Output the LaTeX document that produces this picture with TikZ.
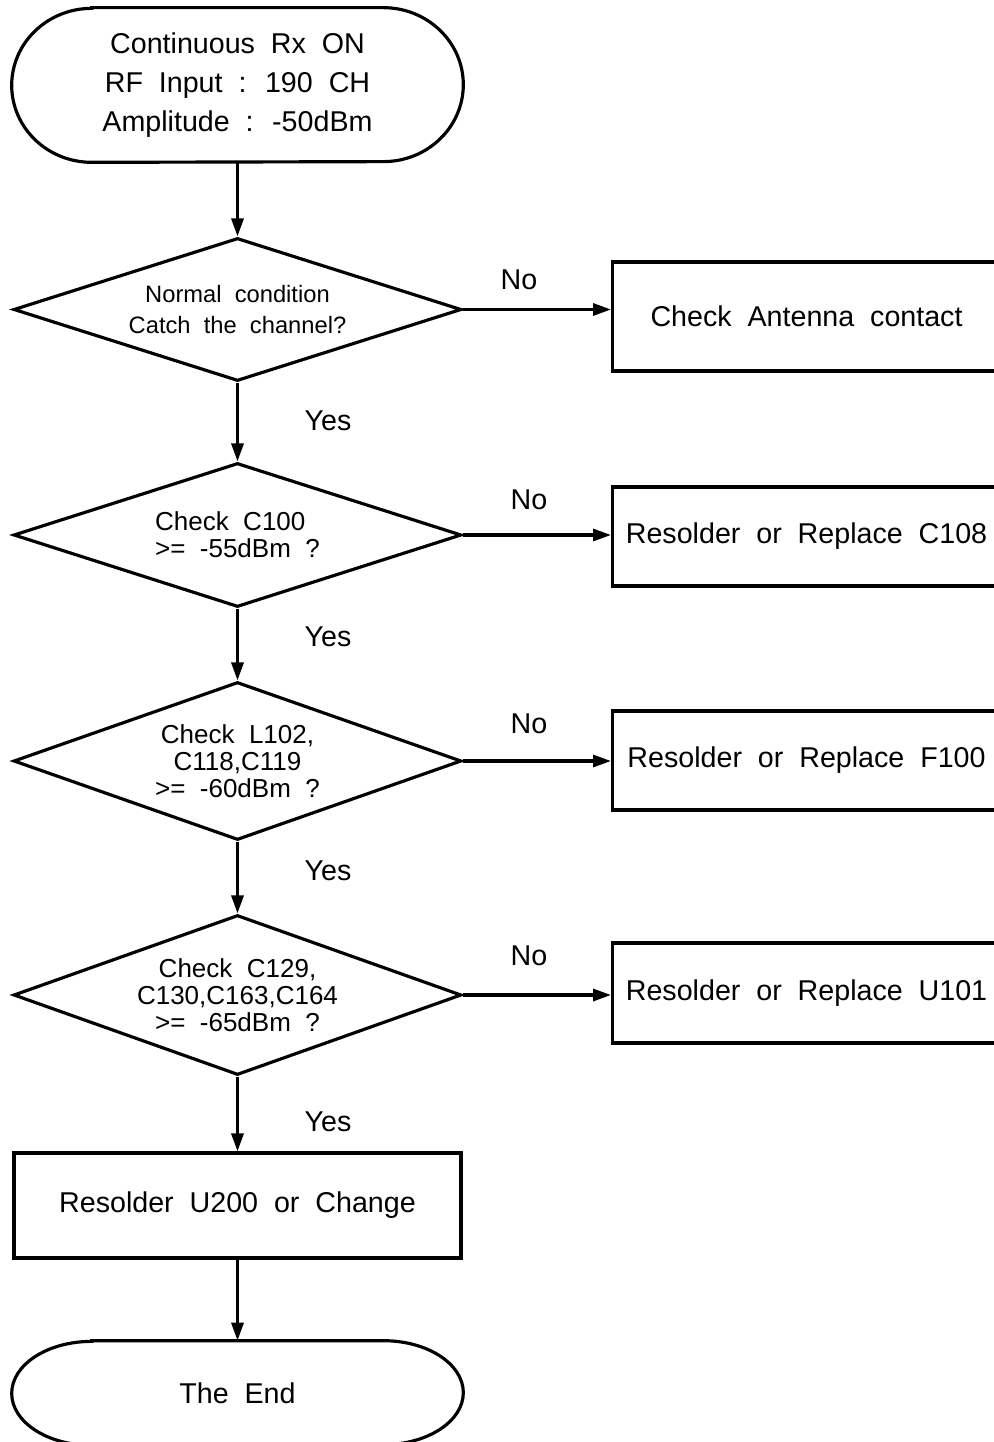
\documentclass[tikz,border=0pt]{standalone}
\usepackage{fontspec}
\setmainfont[WordSpace=2]{Liberation Sans}
\usetikzlibrary{arrows.meta, shapes.geometric, calc}

\newcommand{\bigtxt}{\fontsize{16.3pt}{22.1pt}\selectfont}
\newcommand{\midtxt}{\fontsize{14.8pt}{15.3pt}\selectfont}
\newcommand{\smalltxt}{\fontsize{13.5pt}{18.1pt}\selectfont}
% outline of a terminal node: name, width of the round end, half height
\newcommand{\termline}[3]{%
  \draw[flow] ([xshift=#2]#1.north west) -- ([xshift=-#2]#1.north east)
    arc[start angle=90, end angle=-90, x radius=#2, y radius=#3]
    -- ([xshift=#2]#1.south west)
    arc[start angle=270, end angle=90, x radius=#2, y radius=#3] -- cycle;}

\begin{document}
\begin{tikzpicture}[x=0.02cm, y=0.02cm, >={Triangle[length=0.36cm, width=0.24cm]},
  flow/.style={line width=1.8pt},
  term/.style={minimum width=9.02cm, inner sep=0pt, align=center, font=\bigtxt},
  decide/.style={flow, draw, diamond, shape aspect=3, inner sep=0pt, minimum width=8.96cm, align=center, font=\midtxt},
  fixbox/.style={flow, draw, rectangle, anchor=west, minimum width=7.76cm, font=\bigtxt},
  lbl/.style={font=\bigtxt}]
\useasboundingbox (0,0) rectangle (993,-1442);

\node[term, minimum height=3.08cm] (start) at (237.5,-85)
  {Continuous Rx ON\\RF Input : 190 CH\\Amplitude : -50dBm};
\termline{start}{1.6cm}{1.54cm}

\node[decide, minimum height=2.86cm, font=\smalltxt] (d1) at (237.5,-309.5)
  {Normal condition\\Catch the channel?};
\node[decide, minimum height=2.88cm, align=left] (d2) at (237.5,-535)
  {Check C100\\>= -55dBm ?};
\node[decide, minimum height=3.16cm] (d3) at (237.5,-761)
  {Check L102,\\C118,C119\\>= -60dBm ?};
\node[decide, minimum height=3.2cm] (d4) at (237.5,-995)
  {Check C129,\\C130,C163,C164\\>= -65dBm ?};

\node[fixbox, minimum height=2.18cm] (b1) at (611,-316.5) {Check Antenna contact};
\node[fixbox, minimum height=1.98cm] (b2) at (611,-536.5) {Resolder or Replace C108};
\node[fixbox, minimum height=1.98cm] (b3) at (611,-760.5) {Resolder or Replace F100};
\node[fixbox, minimum height=2cm] (b4) at (611,-993) {Resolder or Replace U101};

\node[flow, draw, rectangle, minimum width=8.94cm, minimum height=2.1cm, font=\bigtxt]
  (fix) at (237.5,-1205.5) {Resolder U200 or Change};

\node[term, minimum height=2.08cm] (end) at (237.5,-1393) {The End};
\termline{end}{1.6cm}{1.04cm}

% main line
\draw[flow, ->] (start) -- (d1);
\draw[flow, ->] (d1) -- (d2);
\draw[flow, ->] (d2) -- (d3);
\draw[flow, ->] (d3) -- (d4);
\draw[flow, ->] (d4) -- (fix);
\draw[flow, ->] (fix) -- (end);

% No branches
\draw[flow, ->] (d1.east) -- (d1.east -| b1.west);
\draw[flow, ->] (d2.east) -- (d2.east -| b2.west);
\draw[flow, ->] (d3.east) -- (d3.east -| b3.west);
\draw[flow, ->] (d4.east) -- (d4.east -| b4.west);

\node[lbl] (no1) at (519,-280) {No};
\node[lbl] (no2) at (529,-500) {No};
\node[lbl] (no3) at (529,-724) {No};
\node[lbl] (no4) at (529,-956) {No};
\node[lbl] (yes1) at (328,-421) {Yes};
\node[lbl] (yes2) at (328,-637) {Yes};
\node[lbl] (yes3) at (328,-871) {Yes};
\node[lbl] (yes4) at (328,-1122) {Yes};
\end{tikzpicture}
\end{document}
